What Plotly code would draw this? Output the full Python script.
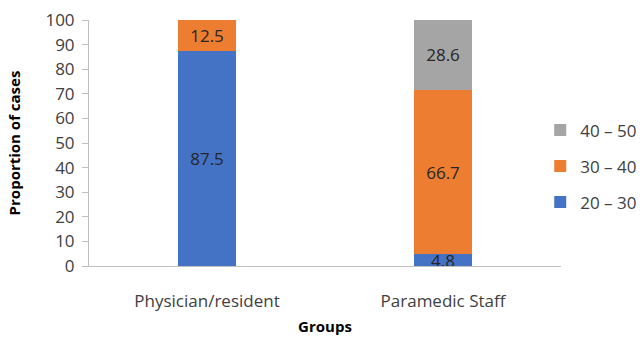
import plotly.graph_objects as go

groups = ["Physician/resident", "Paramedic Staff"]
age_bands = ["20 – 30", "30 – 40", "40 – 50"]
share_20_30 = [87.5, 4.8]
share_30_40 = [12.5, 66.7]
share_40_50 = [None, 28.6]
band_colors = ["#4472C4", "#ED7D31", "#A5A5A5"]

FONT = "'Open Sans', sans-serif"
TEXT = "#404040"

fig = go.Figure()
for rank, (name, vals, col) in enumerate(zip(age_bands, [share_20_30, share_30_40, share_40_50], band_colors)):
    fig.add_trace(go.Bar(
        x=groups, y=vals, name=name, marker_color=col, marker_line_width=0,
        text=[("" if v is None else f"{v:.1f}") for v in vals],
        textposition="inside", insidetextanchor="middle",
        textfont=dict(family=FONT, size=17, color="#262626"),
        legendgroup=name, legendrank=3 - rank,
    ))

fig.update_layout(
    barmode="stack", bargap=0.754,
    width=640, height=338,
    margin=dict(l=89, r=79, t=20, b=72, autoexpand=False),
    paper_bgcolor="white", plot_bgcolor="white",
    font=dict(family=FONT, size=17, color=TEXT),
    uniformtext=dict(minsize=17, mode="show"),
    legend=dict(
        x=0.956, xanchor="left", y=0.405, yanchor="middle",
        traceorder="grouped", tracegroupgap=11,
        font=dict(family=FONT, size=17, color=TEXT),
        bgcolor="rgba(0,0,0,0)", borderwidth=0,
    ),
)
fig.update_yaxes(
    range=[0, 100], dtick=10, showgrid=False, zeroline=False,
    showline=True, linecolor="#BFBFBF", linewidth=1,
    ticks="outside", ticklen=6, tickcolor="#BFBFBF", ticklabelstandoff=4,
    tickfont=dict(size=17, color=TEXT),
    title=dict(text="<b>Proportion of cases</b>", font=dict(size=15, color="#000000"), standoff=21),
)
fig.update_xaxes(
    showgrid=False, showline=True, linecolor="#BFBFBF", linewidth=1,
    ticks="", ticklabelstandoff=20,
    tickfont=dict(size=17, color=TEXT),
    title=dict(text="<b>Groups</b>", font=dict(size=15, color="#000000"), standoff=10),
)

fig.write_html("out.html")
